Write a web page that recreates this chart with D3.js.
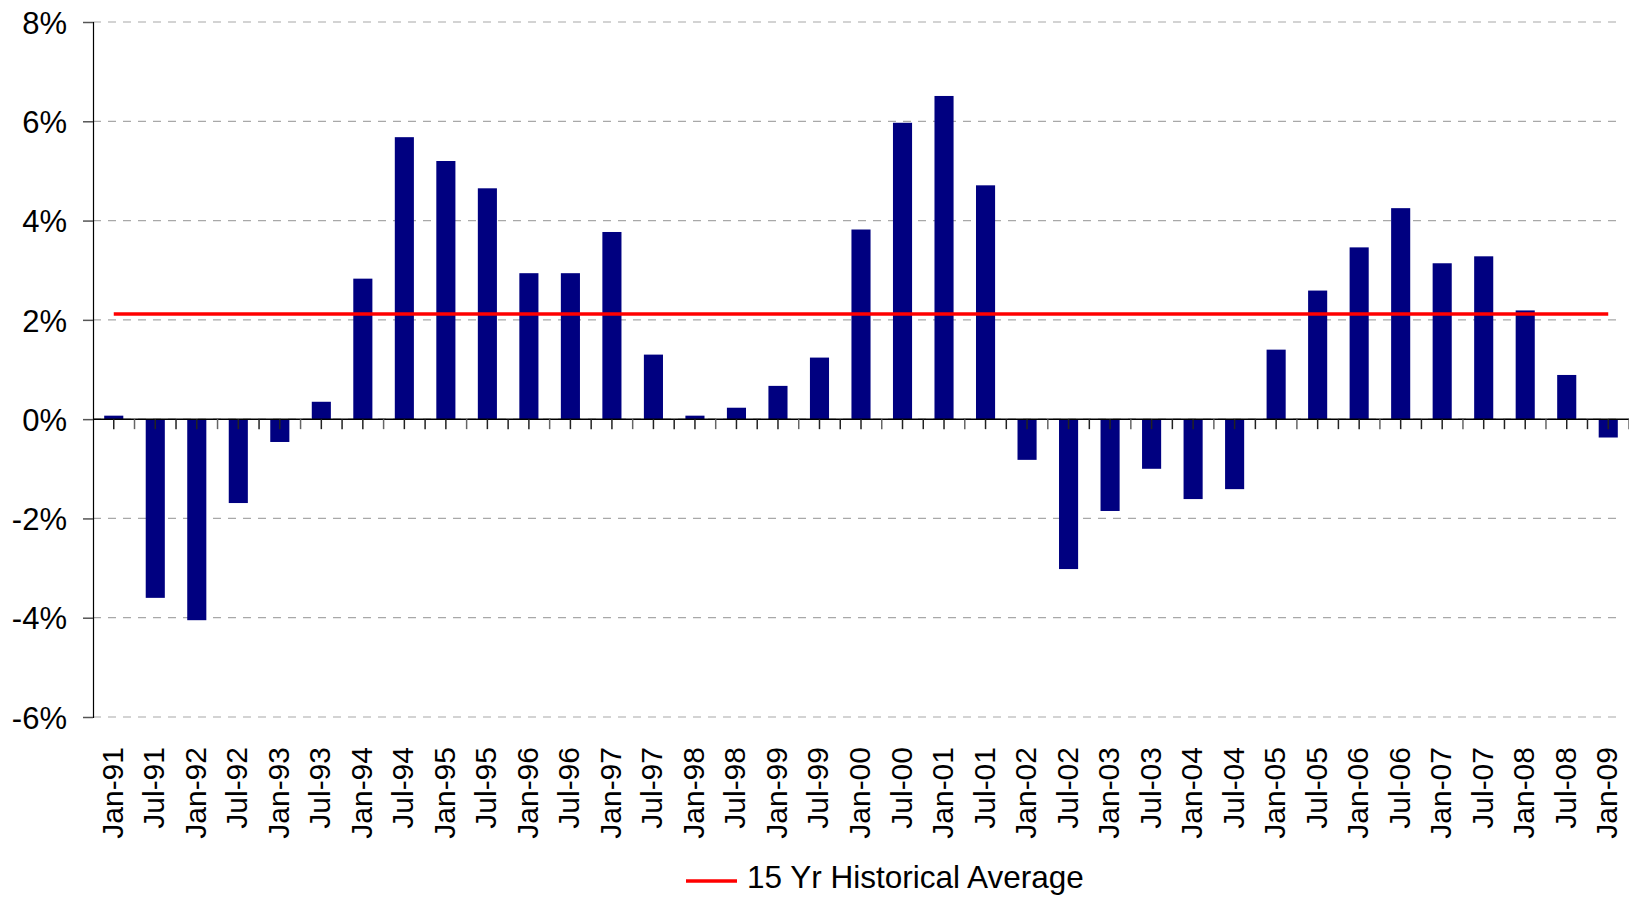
<!DOCTYPE html>
<html>
<head>
<meta charset="utf-8">
<script src="https://cdn.jsdelivr.net/npm/d3@7"></script>
<style>
    body { margin: 0; background: #fff; }
    svg text { font-family: "Liberation Sans", Arial, sans-serif; fill: #000; }
</style>
</head>
<body>
<div id="wrapper"></div>
<script>
const periods = ["Jan-91","Jul-91","Jan-92","Jul-92","Jan-93","Jul-93","Jan-94","Jul-94","Jan-95","Jul-95",
    "Jan-96","Jul-96","Jan-97","Jul-97","Jan-98","Jul-98","Jan-99","Jul-99","Jan-00","Jul-00",
    "Jan-01","Jul-01","Jan-02","Jul-02","Jan-03","Jul-03","Jan-04","Jul-04","Jan-05","Jul-05",
    "Jan-06","Jul-06","Jan-07","Jul-07","Jan-08","Jul-08","Jan-09"];
const growth = [0.07,-3.60,-4.05,-1.69,-0.46,0.35,2.83,5.68,5.20,4.65,
    2.94,2.94,3.77,1.30,0.07,0.23,0.67,1.24,3.82,5.97,
    6.51,4.71,-0.82,-3.02,-1.85,-1.00,-1.61,-1.41,1.40,2.59,
    3.46,4.25,3.14,3.28,2.19,0.89,-0.37];
const historicalAvg = 2.12;
const yTicks = [-6,-4,-2,0,2,4,6,8];
const legendLabel = "15 Yr Historical Average";

function buildPlot() {
    var dimension = {
        width: 1629,
        height: 897,
        margin: { top: 22, left: 93, bottom: 180, right: 0 }
    };
    dimension.boundedWidth = dimension.width - dimension.margin.left - dimension.margin.right;
    dimension.boundedHeight = 717 - dimension.margin.top;

    const svg = d3.select("#wrapper").append("svg")
        .attr("width", dimension.width)
        .attr("height", dimension.height);
    const bounded = svg.append("g")
        .attr("transform", `translate(${dimension.margin.left},${dimension.margin.top})`);

    const xScale = d3.scaleBand()
        .domain(periods)
        .range([0, dimension.boundedWidth])
        .paddingInner(0.54)
        .paddingOuter(0.27);

    const yScale = d3.scaleLinear()
        .domain([-6, 8])
        .range([dimension.boundedHeight, 0]);

    const gridRight = 1622 - dimension.margin.left;

    // dashed gridlines
    bounded.append("g")
        .selectAll("line")
        .data(yTicks)
        .join("line")
        .attr("x1", 0)
        .attr("x2", gridRight)
        .attr("y1", d => yScale(d))
        .attr("y2", d => yScale(d))
        .attr("stroke", "#a8a8a8")
        .attr("stroke-width", 1.2)
        .attr("stroke-dasharray", "8,7");

    // y axis
    const yAxis = d3.axisLeft(yScale)
        .tickValues(yTicks)
        .tickSize(10)
        .tickPadding(16)
        .tickFormat(d => d + "%");
    const yAxisG = bounded.append("g").call(yAxis);
    yAxisG.select(".domain").attr("stroke", "#000").attr("stroke-width", 1.2);
    yAxisG.selectAll(".tick line").attr("stroke", "#555").attr("stroke-width", 1.5);
    yAxisG.selectAll("text")
        .style("font-size", "31px")
        .attr("dy", "0.36em");

    // bars
    bounded.append("g")
        .selectAll("rect")
        .data(periods)
        .join("rect")
        .attr("x", d => xScale(d))
        .attr("width", xScale.bandwidth())
        .attr("y", (d, i) => yScale(Math.max(0, growth[i])))
        .attr("height", (d, i) => Math.abs(yScale(growth[i]) - yScale(0)))
        .attr("fill", "#000080");

    // zero axis line with ticks at centers and boundaries
    const zeroY = yScale(0);
    bounded.append("line")
        .attr("x1", 0)
        .attr("x2", dimension.boundedWidth)
        .attr("y1", zeroY)
        .attr("y2", zeroY)
        .attr("stroke", "#000")
        .attr("stroke-width", 1.5);

    const half = xScale.step() / 2;
    const tickPositions = [];
    periods.forEach(p => {
        const c = xScale(p) + xScale.bandwidth() / 2;
        tickPositions.push(c);
        tickPositions.push(c + half);
    });
    bounded.append("g")
        .selectAll("line")
        .data(tickPositions)
        .join("line")
        .attr("x1", d => d)
        .attr("x2", d => d)
        .attr("y1", zeroY)
        .attr("y2", zeroY + 10)
        .attr("stroke", (d, i) => i % 4 == 1 ? "#666" : "#222")
        .attr("stroke-width", 1.5);

    // category labels
    bounded.append("g")
        .selectAll("text")
        .data(periods)
        .join("text")
        .attr("transform", d => `translate(${xScale(d) + xScale.bandwidth() / 2},${747 - dimension.margin.top}) rotate(-90)`)
        .attr("text-anchor", "end")
        .attr("dy", "0.3em")
        .style("font-size", "30px")
        .text(d => d);

    // historical average line
    const avgLine = d3.line()
        .x(d => xScale(d) + xScale.bandwidth() / 2)
        .y(() => yScale(historicalAvg));
    bounded.append("path")
        .attr("d", avgLine(periods))
        .attr("fill", "none")
        .attr("stroke", "#ff0000")
        .attr("stroke-width", 3.5);

    // legend
    const legend = svg.append("g").attr("transform", "translate(686,881)");
    legend.append("line")
        .attr("x1", 0)
        .attr("x2", 51)
        .attr("stroke", "#ff0000")
        .attr("stroke-width", 3.5);
    legend.append("text")
        .attr("x", 61)
        .attr("y", 0)
        .attr("dy", "0.22em")
        .style("font-size", "31.5px")
        .text(legendLabel);
}

buildPlot();
</script>
</body>
</html>
